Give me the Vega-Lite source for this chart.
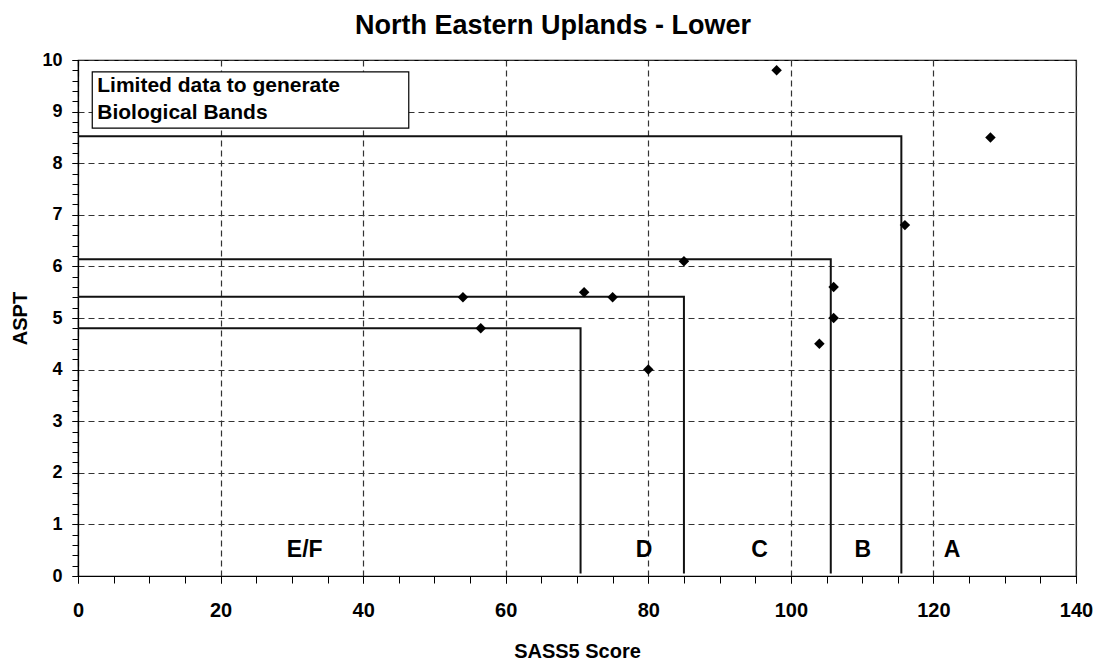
{
  "$schema": "https://vega.github.io/schema/vega-lite/v6.json",
  "width": 998,
  "height": 516,
  "autosize": "none",
  "padding": {"left": 78, "top": 60, "right": 19, "bottom": 88},
  "background": "white",
  "config": {
    "font": "Liberation Sans",
    "view": {"stroke": "black", "strokeWidth": 1.2}
  },
  "title": {
    "text": "North Eastern Uplands - Lower",
    "fontSize": 27,
    "fontWeight": "bold",
    "font": "Liberation Sans",
    "color": "black",
    "offset": 11,
    "dx": -24
  },
  "datasets": {
    "points": [
      {"score": 98, "aspt": 9.8},
      {"score": 128, "aspt": 8.5},
      {"score": 116, "aspt": 6.8},
      {"score": 85, "aspt": 6.1},
      {"score": 54, "aspt": 5.4},
      {"score": 71, "aspt": 5.5},
      {"score": 75, "aspt": 5.4},
      {"score": 56.5, "aspt": 4.8},
      {"score": 80, "aspt": 4.0},
      {"score": 106, "aspt": 5.6},
      {"score": 106, "aspt": 5.0},
      {"score": 104, "aspt": 4.5}
    ],
    "bands": [
      {"band": "E/F", "order": 1, "score": 0, "aspt": 4.8},
      {"band": "E/F", "order": 2, "score": 70.5, "aspt": 4.8},
      {"band": "E/F", "order": 3, "score": 70.5, "aspt": 0.05},
      {"band": "D", "order": 1, "score": 0, "aspt": 5.41},
      {"band": "D", "order": 2, "score": 85, "aspt": 5.41},
      {"band": "D", "order": 3, "score": 85, "aspt": 0.05},
      {"band": "C", "order": 1, "score": 0, "aspt": 6.14},
      {"band": "C", "order": 2, "score": 105.6, "aspt": 6.14},
      {"band": "C", "order": 3, "score": 105.6, "aspt": 0.05},
      {"band": "B", "order": 1, "score": 0, "aspt": 8.52},
      {"band": "B", "order": 2, "score": 115.5, "aspt": 8.52},
      {"band": "B", "order": 3, "score": 115.5, "aspt": 0.05}
    ],
    "labels": [
      {"label": "E/F", "score": 31.8, "aspt": 0.5},
      {"label": "D", "score": 79.4, "aspt": 0.5},
      {"label": "C", "score": 95.6, "aspt": 0.5},
      {"label": "B", "score": 110.1, "aspt": 0.5},
      {"label": "A", "score": 122.6, "aspt": 0.5}
    ],
    "box": [
      {"x1": 2.0, "x2": 46.4, "y1": 8.68, "y2": 9.77}
    ],
    "boxtext": [
      {"text": "Limited data to generate", "score": 2.7, "aspt": 9.5},
      {"text": "Biological Bands", "score": 2.7, "aspt": 8.98}
    ]
  },
  "resolve": {"axis": {"x": "independent", "y": "independent"}},
  "layer": [
    {
      "data": {"name": "bands"},
      "mark": {"type": "line", "color": "#111", "strokeWidth": 2},
      "encoding": {
        "x": {
          "field": "score", "type": "quantitative",
          "scale": {"domain": [0, 140], "nice": false, "zero": true},
          "axis": {
            "orient": "bottom",
            "values": [0, 20, 40, 60, 80, 100, 120, 140],
            "title": "SASS5 Score",
            "titleFontSize": 20, "titleFontWeight": "bold", "titleColor": "black",
            "titlePadding": 21,
            "labelFontSize": 20, "labelFontWeight": "bold", "labelColor": "black",
            "labelPadding": 17,
            "tickSize": 7, "tickColor": "black",
            "domainColor": "black", "domainWidth": 1.2,
            "grid": true, "gridDash": [6, 4], "gridColor": "#333", "gridWidth": 1.2,
            "labelFlush": false
          }
        },
        "y": {
          "field": "aspt", "type": "quantitative",
          "scale": {"domain": [0, 10], "nice": false},
          "axis": {
            "orient": "left",
            "values": [0, 1, 2, 3, 4, 5, 6, 7, 8, 9, 10],
            "title": "ASPT",
            "titleFontSize": 20, "titleFontWeight": "bold", "titleColor": "black",
            "titlePadding": 11,
            "labelFontSize": 18, "labelFontWeight": "bold", "labelColor": "black",
            "labelPadding": 10,
            "tickSize": 6, "tickColor": "black",
            "domainColor": "black", "domainWidth": 1.2,
            "grid": true, "gridDash": [6, 4], "gridColor": "#333", "gridWidth": 1.2,
            "labelFlush": false
          }
        },
        "detail": {"field": "band"},
        "order": {"field": "order", "type": "quantitative"}
      }
    },
    {
      "data": {"name": "points"},
      "mark": {"type": "point", "shape": "diamond", "filled": true, "color": "black", "size": 110, "opacity": 1},
      "encoding": {
        "x": {
          "field": "score", "type": "quantitative",
          "axis": {
            "orient": "bottom",
            "values": [0, 5, 10, 15, 20, 25, 30, 35, 40, 45, 50, 55, 60, 65, 70, 75, 80, 85, 90, 95, 100, 105, 110, 115, 120, 125, 130, 135, 140],
            "labels": false, "title": null, "grid": false, "domain": false,
            "tickSize": 7, "tickColor": "black"
          }
        },
        "y": {
          "field": "aspt", "type": "quantitative",
          "axis": {
            "orient": "left",
            "values": [0, 0.2, 0.4, 0.6, 0.8, 1, 1.2, 1.4, 1.6, 1.8, 2, 2.2, 2.4, 2.6, 2.8, 3, 3.2, 3.4, 3.6, 3.8, 4, 4.2, 4.4, 4.6, 4.8, 5, 5.2, 5.4, 5.6, 5.8, 6, 6.2, 6.4, 6.6, 6.8, 7, 7.2, 7.4, 7.6, 7.8, 8, 8.2, 8.4, 8.6, 8.8, 9, 9.2, 9.4, 9.6, 9.8, 10],
            "labels": false, "title": null, "grid": false, "domain": false,
            "tickSize": 6, "tickColor": "black"
          }
        }
      }
    },
    {
      "data": {"name": "box"},
      "mark": {"type": "rect", "fill": "white", "stroke": "black", "strokeWidth": 1.2},
      "encoding": {
        "x": {"field": "x1", "type": "quantitative", "axis": null},
        "x2": {"field": "x2"},
        "y": {"field": "y1", "type": "quantitative", "axis": null},
        "y2": {"field": "y2"}
      }
    },
    {
      "data": {"name": "boxtext"},
      "mark": {"type": "text", "align": "left", "baseline": "middle", "fontSize": 21, "fontWeight": "bold", "color": "black", "font": "Liberation Sans"},
      "encoding": {
        "x": {"field": "score", "type": "quantitative", "axis": null},
        "y": {"field": "aspt", "type": "quantitative", "axis": null},
        "text": {"field": "text"}
      }
    },
    {
      "data": {"name": "labels"},
      "mark": {"type": "text", "align": "center", "baseline": "middle", "fontSize": 23, "fontWeight": "bold", "color": "black", "font": "Liberation Sans"},
      "encoding": {
        "x": {"field": "score", "type": "quantitative", "axis": null},
        "y": {"field": "aspt", "type": "quantitative", "axis": null},
        "text": {"field": "label"}
      }
    }
  ]
}
